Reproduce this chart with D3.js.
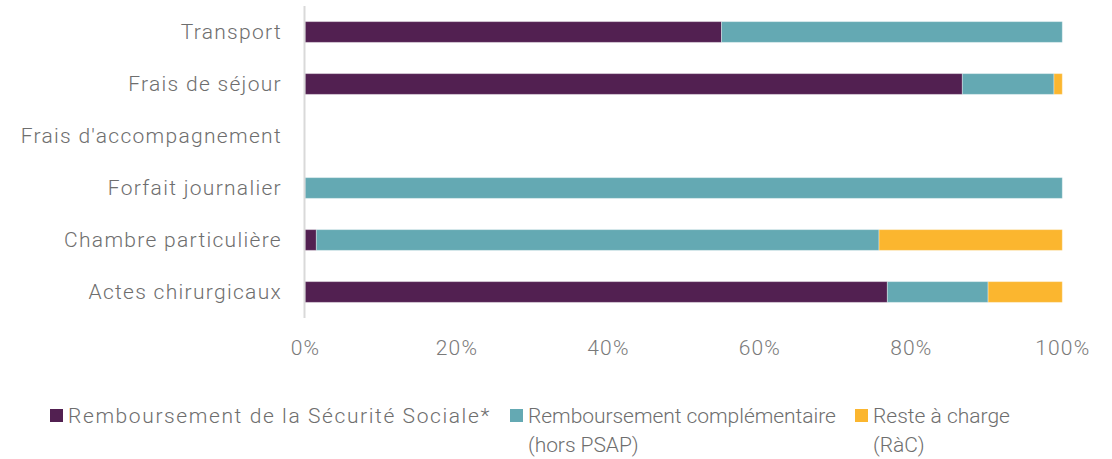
<!DOCTYPE html>
<html><head><meta charset="utf-8">
<script src="https://cdn.jsdelivr.net/npm/d3@7"></script>
<style>
body{margin:0;background:#fff;}
text{font-family:Roboto, sans-serif;font-weight:300;}
</style></head>
<body><svg id="c" width="1112" height="459"></svg>
<script>
const categories = ["Transport","Frais de séjour","Frais d'accompagnement","Forfait journalier","Chambre particulière","Actes chirurgicaux"];
const seriesNames = ["Remboursement de la Sécurité Sociale*","Remboursement complémentaire\n(hors PSAP)","Reste à charge\n(RàC)"];
const secu = [55.0, 86.8, 0, 0, 1.5, 76.9];
const compl = [45.0, 12.1, 0, 100, 74.3, 13.3];
const rac = [0, 1.1, 0, 0, 24.2, 9.8];
const ticks = [0,20,40,60,80,100];
const colors = ["#522051","#64a9b3","#fbb62f"];

const svg = d3.select("#c");
const x = d3.scaleLinear().domain([0,100]).range([305,1062.3]);
const y = d3.scaleBand().domain(categories).range([6,318]).paddingInner(0.6).paddingOuter(0.3);

const data = categories.map((c,i)=>({cat:c, s0:secu[i], s1:compl[i], s2:rac[i]}));
const stack = d3.stack().keys(["s0","s1","s2"])(data);

svg.append("g").selectAll("g").data(stack).join("g")
  .attr("fill",(d,i)=>colors[i])
  .selectAll("rect").data(d=>d.filter(p=>p[1]-p[0]>0)).join("rect")
  .attr("x",d=>x(d[0])).attr("width",d=>x(d[1])-x(d[0]))
  .attr("y",d=>y(d.data.cat)).attr("height",y.bandwidth())
  .attr("stroke","rgba(255,255,255,0.35)").attr("stroke-width",1);

svg.append("line").attr("x1",304.5).attr("x2",304.5).attr("y1",6).attr("y2",318)
  .attr("stroke","#d9d9d9").attr("stroke-width",2);

const font = "Roboto, sans-serif";
const yAxis = d3.axisLeft(y).tickSize(0).tickPadding(0);
const gy = svg.append("g").attr("transform","translate(282,0)").call(yAxis);
gy.select(".domain").remove();
gy.selectAll("text").attr("font-size",21).attr("fill","#6e6e6e").attr("dy","0.34em")
  .style("font-family",font).style("font-weight",300).style("letter-spacing","1.3px");

const xAxis = d3.axisBottom(x).tickValues(ticks).tickFormat(d=>d+"%").tickSize(0).tickPadding(0);
const gx = svg.append("g").attr("transform","translate(0,340)").call(xAxis);
gx.select(".domain").remove();
gx.selectAll("text").attr("font-size",21).attr("fill","#7a7a7a").attr("dy","0.71em")
  .style("font-family",font).style("font-weight",300).style("letter-spacing","1.2px");

const legX = [50, 510, 855];
const legSpacing = [1.6, -0.05, 0];
const lg = svg.append("g");
seriesNames.forEach((n,i)=>{
  lg.append("rect").attr("x",legX[i]).attr("y",409).attr("width",13).attr("height",13).attr("fill",colors[i]);
  const t = lg.append("text").attr("x",legX[i]+18).attr("y",423).attr("font-size",21).attr("fill","#6e6e6e")
    .style("letter-spacing",legSpacing[i]+"px");
  n.split("\n").forEach((line,j)=>{
    t.append("tspan").attr("x",legX[i]+18).attr("dy",j===0?0:29).text(line);
  });
});
</script></body></html>
